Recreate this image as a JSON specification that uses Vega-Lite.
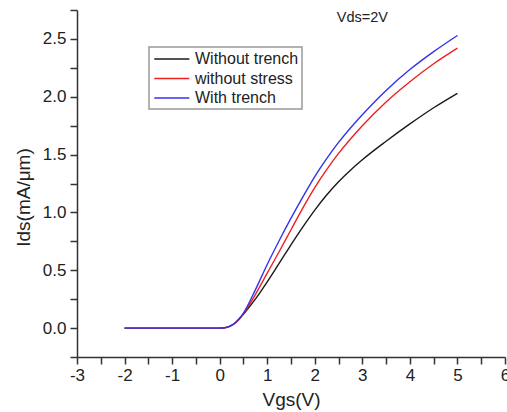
{
  "$schema": "https://vega.github.io/schema/vega-lite/v6.json",
  "width": 428,
  "height": 347,
  "autosize": "none",
  "padding": {"left": 77, "top": 10, "right": 2, "bottom": 55},
  "background": "white",
  "config": {
    "view": {"stroke": null},
    "font": "Liberation Sans"
  },
  "datasets": {
    "curves": [
      {"s": "Without trench", "x": -2, "y": 0},
      {"s": "Without trench", "x": -1, "y": 0},
      {"s": "Without trench", "x": 0, "y": 0},
      {"s": "Without trench", "x": 0.1, "y": 0.003},
      {"s": "Without trench", "x": 0.2, "y": 0.013},
      {"s": "Without trench", "x": 0.3, "y": 0.035},
      {"s": "Without trench", "x": 0.4, "y": 0.072},
      {"s": "Without trench", "x": 0.5, "y": 0.12},
      {"s": "Without trench", "x": 0.75, "y": 0.25},
      {"s": "Without trench", "x": 1.0, "y": 0.40},
      {"s": "Without trench", "x": 1.25, "y": 0.56},
      {"s": "Without trench", "x": 1.5, "y": 0.72},
      {"s": "Without trench", "x": 1.75, "y": 0.875},
      {"s": "Without trench", "x": 2.0, "y": 1.02},
      {"s": "Without trench", "x": 2.25, "y": 1.15},
      {"s": "Without trench", "x": 2.5, "y": 1.265},
      {"s": "Without trench", "x": 2.75, "y": 1.365},
      {"s": "Without trench", "x": 3.0, "y": 1.455},
      {"s": "Without trench", "x": 3.5, "y": 1.615},
      {"s": "Without trench", "x": 4.0, "y": 1.765},
      {"s": "Without trench", "x": 4.5, "y": 1.905},
      {"s": "Without trench", "x": 5.0, "y": 2.03},
      {"s": "without stress", "x": -2, "y": 0},
      {"s": "without stress", "x": -1, "y": 0},
      {"s": "without stress", "x": 0, "y": 0},
      {"s": "without stress", "x": 0.1, "y": 0.003},
      {"s": "without stress", "x": 0.2, "y": 0.013},
      {"s": "without stress", "x": 0.3, "y": 0.036},
      {"s": "without stress", "x": 0.4, "y": 0.074},
      {"s": "without stress", "x": 0.5, "y": 0.125},
      {"s": "without stress", "x": 0.75, "y": 0.29},
      {"s": "without stress", "x": 1.0, "y": 0.475},
      {"s": "without stress", "x": 1.25, "y": 0.66},
      {"s": "without stress", "x": 1.5, "y": 0.85},
      {"s": "without stress", "x": 1.75, "y": 1.04},
      {"s": "without stress", "x": 2.0, "y": 1.215},
      {"s": "without stress", "x": 2.25, "y": 1.37},
      {"s": "without stress", "x": 2.5, "y": 1.51},
      {"s": "without stress", "x": 2.75, "y": 1.635},
      {"s": "without stress", "x": 3.0, "y": 1.75},
      {"s": "without stress", "x": 3.5, "y": 1.955},
      {"s": "without stress", "x": 4.0, "y": 2.13},
      {"s": "without stress", "x": 4.5, "y": 2.285},
      {"s": "without stress", "x": 5.0, "y": 2.42},
      {"s": "With trench", "x": -2, "y": 0},
      {"s": "With trench", "x": -1, "y": 0},
      {"s": "With trench", "x": 0, "y": 0},
      {"s": "With trench", "x": 0.1, "y": 0.003},
      {"s": "With trench", "x": 0.2, "y": 0.014},
      {"s": "With trench", "x": 0.3, "y": 0.037},
      {"s": "With trench", "x": 0.4, "y": 0.077},
      {"s": "With trench", "x": 0.5, "y": 0.13},
      {"s": "With trench", "x": 0.75, "y": 0.33},
      {"s": "With trench", "x": 1.0, "y": 0.55},
      {"s": "With trench", "x": 1.25, "y": 0.755},
      {"s": "With trench", "x": 1.5, "y": 0.95},
      {"s": "With trench", "x": 1.75, "y": 1.135},
      {"s": "With trench", "x": 2.0, "y": 1.31},
      {"s": "With trench", "x": 2.25, "y": 1.465},
      {"s": "With trench", "x": 2.5, "y": 1.605},
      {"s": "With trench", "x": 2.75, "y": 1.73},
      {"s": "With trench", "x": 3.0, "y": 1.845},
      {"s": "With trench", "x": 3.5, "y": 2.055},
      {"s": "With trench", "x": 4.0, "y": 2.235},
      {"s": "With trench", "x": 4.5, "y": 2.39},
      {"s": "With trench", "x": 5.0, "y": 2.53}
    ],
    "note": [{"x": 3.0, "y": 2.68, "label": "Vds=2V"}]
  },
  "layer": [
    {
      "data": {"name": "curves"},
      "mark": {"type": "line", "strokeWidth": 1.4, "interpolate": "monotone"},
      "encoding": {
        "x": {
          "field": "x", "type": "quantitative",
          "scale": {"domain": [-3, 6], "nice": false, "zero": false},
          "axis": {
            "title": "Vgs(V)",
            "values": [-3, -2.5, -2, -1.5, -1, -0.5, 0, 0.5, 1, 1.5, 2, 2.5, 3, 3.5, 4, 4.5, 5, 5.5, 6],
            "tickCount": 100,
            "labelExpr": "datum.value % 1 === 0 ? '' + datum.value : ''",
            "tickSize": 7,
            "labelFlush": false,
            "labelOverlap": false,
            "labelPadding": 3,
            "labelFontSize": 17,
            "labelColor": "#222",
            "titleFontSize": 19,
            "titleFontWeight": "normal",
            "titleColor": "#222",
            "titlePadding": 7,
            "domainColor": "#333",
            "domainWidth": 1.5,
            "tickColor": "#333",
            "tickWidth": 1.5,
            "grid": false,
            "encode": {"ticks": {"update": {"y2": {"signal": "datum.value % 1 === 0 ? 7 : 4"}}}}
          }
        },
        "y": {
          "field": "y", "type": "quantitative",
          "scale": {"domain": [-0.25, 2.75], "nice": false, "zero": false},
          "axis": {
            "title": "Ids(mA/μm)",
            "values": [-0.25, 0, 0.25, 0.5, 0.75, 1, 1.25, 1.5, 1.75, 2, 2.25, 2.5, 2.75],
            "tickCount": 100,
            "format": ".1f",
            "labelExpr": "(datum.value * 2) % 1 === 0 ? datum.label : ''",
            "tickSize": 7,
            "labelPadding": 4,
            "labelOverlap": false,
            "labelFontSize": 17,
            "labelColor": "#222",
            "titleFontSize": 19,
            "titleFontWeight": "normal",
            "titleColor": "#222",
            "titleX": -54,
            "titleY": 187,
            "titleAngle": -90,
            "titleAlign": "center",
            "titleBaseline": "middle",
            "domainColor": "#333",
            "domainWidth": 1.5,
            "tickColor": "#333",
            "tickWidth": 1.5,
            "grid": false,
            "encode": {"ticks": {"update": {"x2": {"signal": "(datum.value * 2) % 1 === 0 ? -7 : -4"}}}}
          }
        },
        "color": {
          "field": "s", "type": "nominal",
          "scale": {"domain": ["Without trench", "without stress", "With trench"], "range": ["#1a1a1a", "#ee2020", "#3333ee"]},
          "legend": {
            "title": null,
            "orient": "none",
            "legendX": 72,
            "legendY": 37,
            "padding": 3,
            "rowPadding": 2.5,
            "symbolType": "M-0.84,0H3.54",
            "symbolSize": 256,
            "symbolStrokeWidth": 1.4,
            "labelOffset": 25,
            "labelFontSize": 16,
            "labelColor": "#222",
            "strokeColor": "#999",
            "encode": {"legend": {"update": {"strokeWidth": {"value": 1.5}}}}
          }
        }
      }
    },
    {
      "data": {"name": "note"},
      "mark": {"type": "text", "fontSize": 14.5, "color": "#222", "align": "center", "baseline": "middle"},
      "encoding": {
        "x": {"field": "x", "type": "quantitative"},
        "y": {"field": "y", "type": "quantitative"},
        "text": {"field": "label"}
      }
    }
  ]
}
